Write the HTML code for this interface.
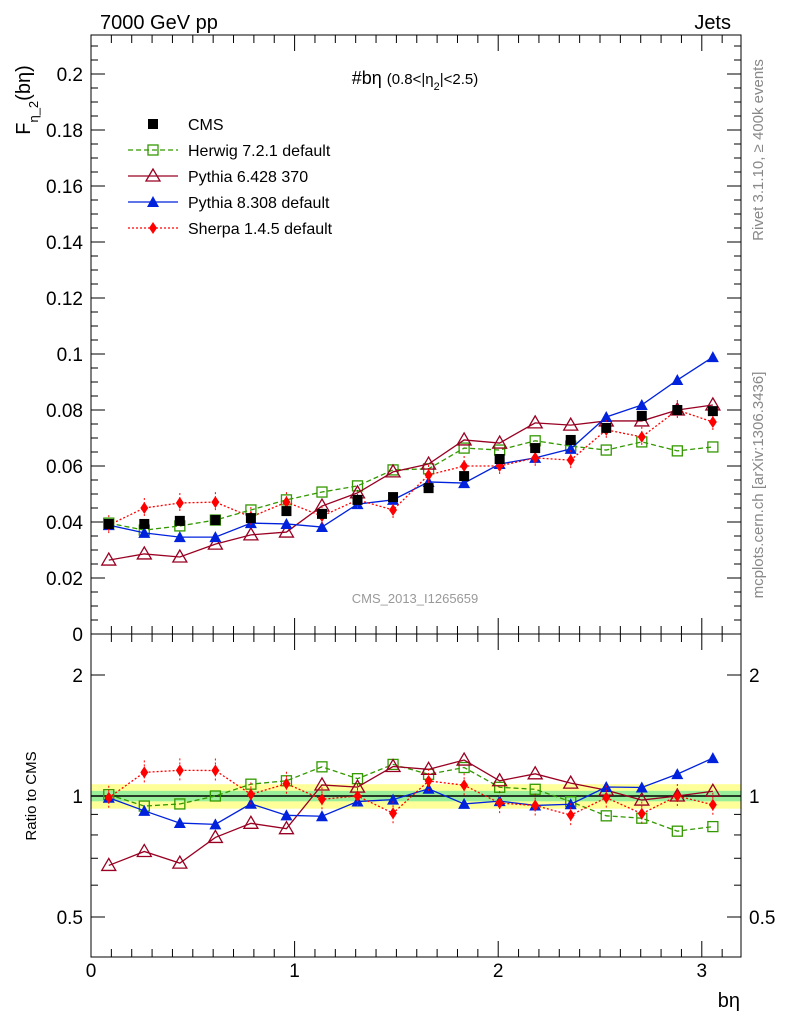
<!DOCTYPE html>
<html><head><meta charset="utf-8"><style>
body{margin:0;background:#fff;}
svg{display:block;font-family:"Liberation Sans",sans-serif;}
</style></head><body>
<svg id="chart" width="786" height="1024" viewBox="0 0 786 1024" xmlns="http://www.w3.org/2000/svg">
<text x="100" y="29" font-size="20">7000 GeV pp</text>
<text x="731" y="29" font-size="20" text-anchor="end">Jets</text>
<text x="415" y="84" font-size="18" text-anchor="middle">#bη <tspan font-size="15">(0.8&lt;|η<tspan baseline-shift="sub" font-size="11">2</tspan>|&lt;2.5)</tspan></text>
<text transform="translate(30,100) rotate(-90)" font-size="20" text-anchor="middle">F<tspan baseline-shift="sub" font-size="13">η_2</tspan>(bη)</text>
<text transform="translate(36,796) rotate(-90)" font-size="15" text-anchor="middle">Ratio to CMS</text>
<text transform="translate(763,150) rotate(-90)" font-size="15" fill="#888" text-anchor="middle">Rivet 3.1.10, ≥ 400k events</text>
<text transform="translate(763,485) rotate(-90)" font-size="15" fill="#888" text-anchor="middle">mcplots.cern.ch [arXiv:1306.3436]</text>
<text x="415" y="603" font-size="13" fill="#999" text-anchor="middle">CMS_2013_I1265659</text>
<text x="740" y="1007" font-size="20" text-anchor="end">bη</text>
<g id="g"></g>
</svg>
<script>
const cms=[0.0393,0.0393,0.0404,0.0407,0.0414,0.0439,0.0429,0.0479,0.0489,0.0521,0.0564,0.0625,0.0664,0.0693,0.0736,0.0779,0.0800,0.0796];
const herwig=[0.0396,0.0371,0.0386,0.0407,0.0443,0.0479,0.0507,0.0529,0.0586,0.0590,0.0664,0.0657,0.0690,0.0671,0.0657,0.0686,0.0654,0.0668];
const pythia6=[0.0264,0.0286,0.0275,0.0321,0.0354,0.0364,0.0457,0.0504,0.0579,0.0607,0.0693,0.0682,0.0754,0.0746,0.0761,0.0761,0.0800,0.0818];
const pythia8=[0.0389,0.0361,0.0346,0.0346,0.0396,0.0393,0.0382,0.0464,0.0479,0.0543,0.0539,0.0607,0.0629,0.0661,0.0775,0.0818,0.0907,0.0989];
const sherpa=[0.0389,0.0450,0.0468,0.0471,0.0418,0.0471,0.0421,0.0479,0.0443,0.0568,0.0600,0.0600,0.0629,0.0621,0.0729,0.0704,0.0800,0.0757];
const yTicks=[0,0.02,0.04,0.06,0.08,0.1,0.12,0.14,0.16,0.18,0.2];
const xTicks=[0,1,2,3];
const rTicks=[0.5,1,2];
const NS='http://www.w3.org/2000/svg';
const g=document.getElementById('g');
const L=91,R=741,T=35,M=634,B=957;
const X=v=>L+v*203.6;
const Y=v=>M-v*2800;
const RY=v=>796-Math.log2(v)*121;
const cx=i=>(i+0.5)*Math.PI/18;
function el(t,a,p){const e=document.createElementNS(NS,t);for(const k in a)e.setAttribute(k,a[k]);(p||g).appendChild(e);return e;}
// ratio bands
let e;
e=el('rect',{x:L,y:RY(1.07),width:R-L,height:RY(0.93)-RY(1.07),fill:'#ffff99'});


e=el('rect',{x:L,y:RY(1.03),width:R-L,height:RY(0.97)-RY(1.03),fill:'#99ee99'});


e=el('line',{x1:L,x2:R,y1:RY(1),y2:RY(1),stroke:'#000','stroke-width':1.5});


// frames
e=el('rect',{x:L,y:T,width:R-L,height:M-T,fill:'none',stroke:'#000'});


e=el('rect',{x:L,y:M,width:R-L,height:B-M,fill:'none',stroke:'#000'});


// y ticks main
for(let v=0;v<=0.2101;v+=0.005){const y=Y(v);const maj=Math.abs(v/0.02-Math.round(v/0.02))<1e-6;const w=maj?14:7;
el('line',{x1:L,x2:L+w,y1:y,y2:y,stroke:'#000'});el('line',{x1:R-w,x2:R,y1:y,y2:y,stroke:'#000'});}
yTicks.forEach(v=>{const t=el('text',{x:L-8,y:Y(v)+7,'font-size':19,'text-anchor':'end'});t.textContent=String(v);

});
// ratio ticks
[0.5,0.6,0.7,0.8,0.9,1,2].forEach(v=>{const y=RY(v);const w=rTicks.includes(v)?14:7;
el('line',{x1:L,x2:L+w,y1:y,y2:y,stroke:'#000'});el('line',{x1:R-w,x2:R,y1:y,y2:y,stroke:'#000'});});
rTicks.forEach(v=>{[[L-8,'end'],[R+8,'start']].forEach(([x,a])=>{const t=el('text',{x:x,y:RY(v)+7,'font-size':19,'text-anchor':a});t.textContent=String(v);

});});
// x ticks
for(let v=0;v<=3.15;v+=0.1){const x=X(v);const maj=Math.abs(v-Math.round(v))<1e-6;const w=maj?16:8;
[[M,-1],[T,1],[B,-1],[M,1]].forEach(([y0,d])=>el('line',{x1:x,x2:x,y1:y0,y2:y0+d*w,stroke:'#000'}));}
xTicks.forEach(v=>{const t=el('text',{x:X(v),y:977,'font-size':19,'text-anchor':'middle'});t.textContent=String(v);

});
function marker(type,x,y,c){
 if(type==='sq')return el('rect',{x:x-5,y:y-5,width:10,height:10,fill:c});
 if(type==='osq')return el('rect',{x:x-5,y:y-5,width:10,height:10,fill:'none',stroke:c,'stroke-width':1.3});
 if(type==='otri')return el('polygon',{points:`${x},${y-7} ${x-7},${y+5} ${x+7},${y+5}`,fill:'none',stroke:c,'stroke-width':1.3});
 if(type==='tri')return el('polygon',{points:`${x},${y-6} ${x-6},${y+5} ${x+6},${y+5}`,fill:c});
 if(type==='dia')return el('polygon',{points:`${x},${y-6} ${x-4},${y} ${x},${y+6} ${x+4},${y}`,fill:c});
}
const series=[
 {d:herwig,c:'#339900',m:'osq',dash:'5,3',n:'herwig'},
 {d:pythia6,c:'#990022',m:'otri',dash:'',n:'pythia6'},
 {d:pythia8,c:'#0022dd',m:'tri',dash:'',n:'pythia8'},
 {d:sherpa,c:'#ff0000',m:'dia',dash:'2,2',n:'sherpa'}];
series.forEach(s=>{
 const p=s.d.map((v,i)=>X(cx(i))+','+Y(v)).join(' ');
 e=el('polyline',{points:p,fill:'none',stroke:s.c,'stroke-width':1.3,'stroke-dasharray':s.dash});
 
 
 const rp=s.d.map((v,i)=>X(cx(i))+','+RY(v/cms[i])).join(' ');
 e=el('polyline',{points:rp,fill:'none',stroke:s.c,'stroke-width':1.3,'stroke-dasharray':s.dash});
 
 
 s.d.forEach((v,i)=>{
  const x=X(cx(i));
  if(s.n==='sherpa'){el('line',{x1:x,x2:x,y1:Y(v)-10,y2:Y(v)+10,stroke:s.c,'stroke-dasharray':'2,2'});
   el('line',{x1:x,x2:x,y1:RY(v/cms[i])-12,y2:RY(v/cms[i])+12,stroke:s.c,'stroke-dasharray':'2,2'});}
  e=marker(s.m,x,Y(v),s.c);
  
  
  e=marker(s.m,x,RY(v/cms[i]),s.c);
  
  
 });
});
cms.forEach((v,i)=>{e=marker('sq',X(cx(i)),Y(v),'#000');
 
 });
// legend
const leg=[['CMS','sq','#000',''],['Herwig 7.2.1 default','osq','#339900','5,3'],['Pythia 6.428 370','otri','#990022',''],['Pythia 8.308 default','tri','#0022dd',''],['Sherpa 1.4.5 default','dia','#ff0000','2,2']];
leg.forEach((l,i)=>{const y=124+i*26;
 if(i>0)el('line',{x1:128,x2:178,y1:y,y2:y,stroke:l[2],'stroke-width':1.3,'stroke-dasharray':l[3]});
 marker(l[1],153,y,l[2]);
 const t=el('text',{x:188,y:y+6,'font-size':16});t.textContent=l[0];
 
 });
</script>
</body></html>
